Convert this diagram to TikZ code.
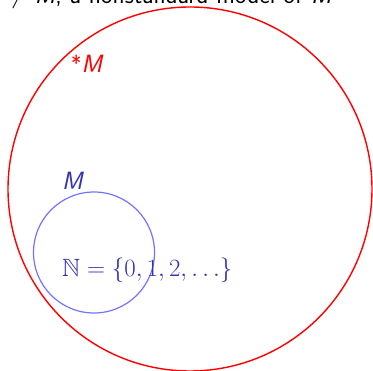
\documentclass[tikz,border=0pt]{standalone}
\usepackage{amssymb}
\definecolor{struct}{rgb}{0.2,0.2,0.7}
\definecolor{lightblue}{rgb}{0.45,0.45,1}
\newcommand{\sfM}{\textsf{\itshape M}}
\begin{document}
\begin{tikzpicture}[x=1pt,y=-1pt,
  lbl/.style={inner sep=0pt,anchor=base west,font=\fontsize{25}{30}\selectfont\sffamily}]
\useasboundingbox (0,0) rectangle (373,371);
\node[lbl] (title) at (9,4) {$\neq$ \sfM, a nonstandard model of \sfM};
\node[draw=red,line width=1.4pt,circle,minimum size=364pt,inner sep=0pt] (big) at (190,189) {};
\node[draw=lightblue,line width=1.2pt,circle,minimum size=121pt,inner sep=0pt] (small) at (94,252.5) {};
\node[lbl,text=red] (starM) at (71,73) {\raisebox{0.1ex}{\fontsize{22}{22}\selectfont *}\sfM};
\node[lbl,text=struct] (M) at (62,190) {\sfM};
\node[lbl,text=struct] (N) at (62,277) {$\mathbb{N}=\{0,1,2,\ldots\}$};
\end{tikzpicture}
\end{document}
